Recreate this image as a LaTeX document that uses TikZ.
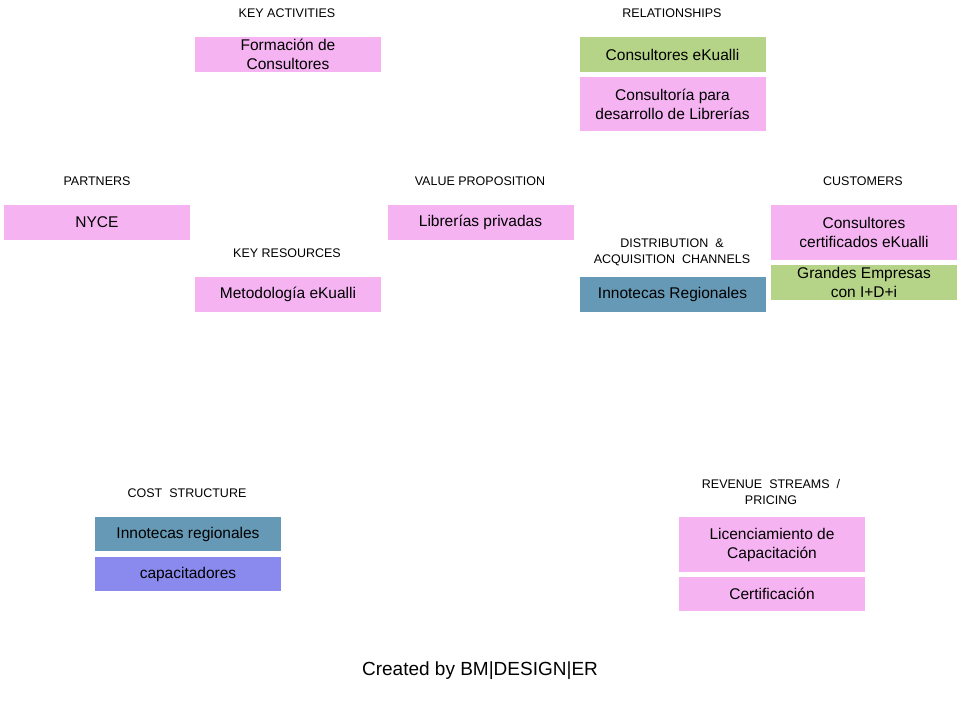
\documentclass[tikz,border=0pt]{standalone}
\usepackage{fontspec}
\setmainfont{Liberation Sans}
\usepackage{xcolor}

\definecolor{bmpink}{HTML}{F5B3F2}
\definecolor{bmgreen}{HTML}{B5D488}
\definecolor{bmteal}{HTML}{6699B5}
\definecolor{bmblue}{HTML}{8A8AEE}

\tikzset{
  card/.style={fill=#1, draw=none, minimum width=186pt, align=center, inner sep=0pt,
    font=\fontsize{15.5}{19}\selectfont},
  card/.default=bmpink,
  tag/.style={align=center, inner sep=0pt, font=\fontsize{12.5}{16}\selectfont}
}

\begin{document}
\begin{tikzpicture}[x=1pt,y=-1pt]
            \useasboundingbox (0,0) rectangle (960,720);

            \node (tact) at (287,13) [tag] {KEY ACTIVITIES};
            \node (trel) at (672,13) [tag] {RELATIONSHIPS};
            \node (tpar) at (97,181) [tag] {PARTNERS};
            \node (tval) at (480,181) [tag] {VALUE PROPOSITION};
            \node (tcus) at (863,181) [tag] {CUSTOMERS};
            \node (tres) at (287,253) [tag] {KEY RESOURCES};
            \node (tdis) at (672,252) [tag] {DISTRIBUTION\ \ \&\\ACQUISITION\ \ CHANNELS};
            \node (tcost) at (187,493) [tag] {COST\ \ STRUCTURE};
            \node (trev) at (771,492) [tag] {REVENUE\ \ STREAMS\ \ /\\PRICING};

            \node (act) at (288,54.5) [card, minimum height=35pt] {Formación de\\Consultores};
            \node (rel1) at (672.5,54.5) [card=bmgreen, minimum height=35pt] {Consultores eKualli};
            \node (rel2) at (672.5,104) [card, minimum height=54pt] {Consultoría para\\desarrollo de Librerías};
            \node (par) at (97,222.5) [card, minimum height=35pt] {NYCE};
            \node (val) at (480.5,222.5) [card, minimum height=35pt] {Librerías privadas};
            \node (cus1) at (864,232.5) [card, minimum height=55pt] {Consultores\\certificados eKualli};
            \node (cus2) at (864,282.5) [card=bmgreen, minimum height=35pt] {Grandes Empresas\\con I+D+i};
            \node (res) at (288,294.5) [card, minimum height=35pt] {Metodología eKualli};
            \node (dis) at (672.5,294.5) [card=bmteal, minimum height=35pt] {Innotecas Regionales};
            \node (cost1) at (188,534) [card=bmteal, minimum height=34pt] {Innotecas regionales};
            \node (cost2) at (188,574) [card=bmblue, minimum height=34pt] {capacitadores};
            \node (rev1) at (772,544.5) [card, minimum height=55pt] {Licenciamiento de\\Capacitación};
            \node (rev2) at (772,594) [card, minimum height=34pt] {Certificación};

            \node (foot) at (480,671) [font=\fontsize{19}{22}\selectfont] {Created by BM|DESIGN|ER};
        \end{tikzpicture}
\end{document}
